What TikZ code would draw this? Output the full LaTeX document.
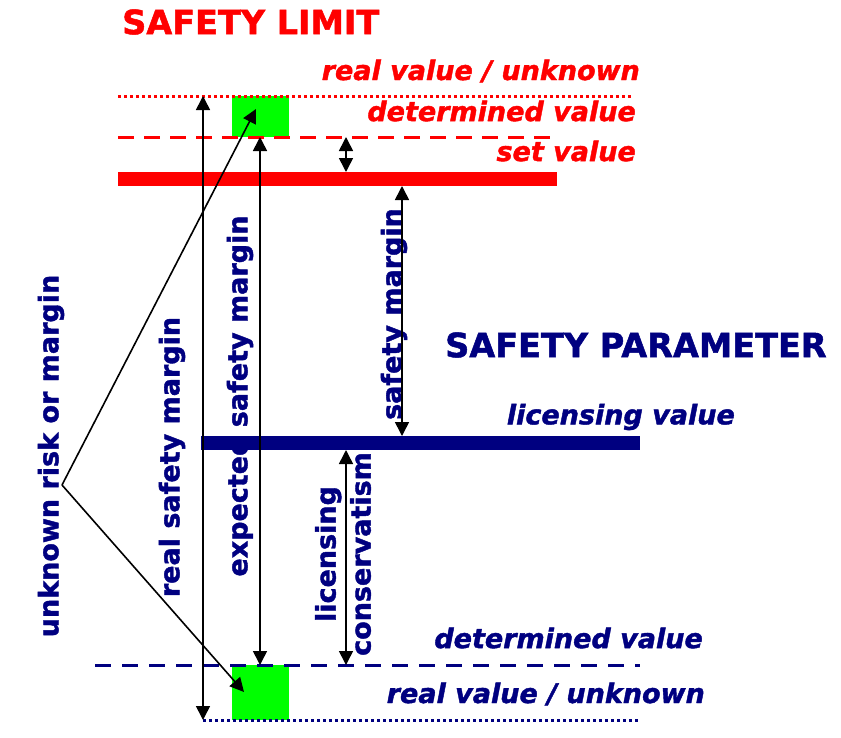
\documentclass[tikz,border=0pt]{standalone}
\usepackage{fontspec}
\setmainfont{DejaVu Sans}[BoldItalicFont={DejaVu Sans Bold Oblique}, ItalicFont={DejaVu Sans Oblique}, BoldFeatures={FakeBold=1.5}, BoldItalicFeatures={FakeBold=1.5}]
\usetikzlibrary{positioning,arrows.meta}
\definecolor{limitred}{rgb}{1, 0, 0}
\definecolor{paramnavy}{rgb}{0, 0, 0.5}
\definecolor{boxgreen}{rgb}{0, 1, 0}

\begin{document}
\begin{tikzpicture}[x=1pt, y=-1pt, inner sep=0pt,
		marg/.style={line width=1.6pt, {Triangle[length=14pt,width=14pt]}-{Triangle[length=14pt,width=14pt]}},
		point/.style={line width=1.6pt, -{Triangle[length=14pt,width=14pt]}},
		title/.style={font=\fontsize{33.5}{36}\selectfont\bfseries},
		levellabel/.style={font=\fontsize{27}{35}\selectfont\bfseries\itshape, anchor=east},
		marglabel/.style={font=\fontsize{27}{35}\selectfont\bfseries, text=paramnavy, rotate=90, align=center}]
			\useasboundingbox (0,0) rectangle (841,737);
			% level lines
			\coordinate (REALTOPL) at (118,96);
			\coordinate (REALTOPR) at (632,96);
			\coordinate (DETTOPL) at (118,137);
			\coordinate (DETTOPR) at (556,137);
			\coordinate (SETL) at (118,179);
			\coordinate (SETR) at (557,179);
			\coordinate (LICL) at (201,443);
			\coordinate (LICR) at (640,443);
			\coordinate (DETBOTL) at (95,665);
			\coordinate (DETBOTR) at (640,665);
			\coordinate (REALBOTL) at (203,720);
			\coordinate (REALBOTR) at (640,720);
			\node [fill=boxgreen, minimum width=57pt, minimum height=41pt, anchor=north west] (BOXTOP) at (232,96) {};
			\node [fill=boxgreen, minimum width=57pt, minimum height=55pt, anchor=north west] (BOXBOT) at (232,665) {};
			\draw [limitred, line width=3pt, dash pattern=on 3pt off 3pt] (REALTOPL) -- (REALTOPR);
			\draw [limitred, line width=3pt, dash pattern=on 16pt off 10pt] (DETTOPL) -- (DETTOPR);
			\draw [limitred, line width=14pt] (SETL) -- (SETR);
			\draw [paramnavy, line width=14pt] (LICL) -- (LICR);
			\draw [paramnavy, line width=3pt, dash pattern=on 16pt off 11pt] (DETBOTL) -- (DETBOTR);
			\draw [paramnavy, line width=3pt, dash pattern=on 3pt off 3pt] (REALBOTL) -- (REALBOTR);
			% labels
			\node [title, text=limitred, anchor=west] (LIMIT) at (122,22) {SAFETY LIMIT};
			\node [title, text=paramnavy, anchor=west] (PARAM) at (445,345) {SAFETY PARAMETER};
			\node [levellabel, text=limitred] (REALTOP) at (640,71) {real value / unknown};
			\node [levellabel, text=limitred] (DETTOP) at (636,111) {determined value};
			\node [levellabel, text=limitred] (SET) at (636,151) {set value};
			\node [levellabel, text=paramnavy] (LIC) at (735,417) {licensing value};
			\node [levellabel, text=paramnavy] (DETBOT) at (703,638) {determined value};
			\node [levellabel, text=paramnavy] (REALBOT) at (705,694) {real value / unknown};
			\node [marglabel] (UNKNOWN) at (51,456) {unknown risk or margin};
			\node [marglabel] (REALMARG) at (172,457) {real safety margin};
			\node [marglabel] (EXPMARG) at (240,396) {expected safety margin};
			\node [marglabel] (SAFEMARG) at (394,314) {safety margin};
			\node [marglabel] (CONSERV) at (343,554) {licensing\\conservatism};
			% margins
			\coordinate (APEX) at (62,485);
			\coordinate (TIPTOP) at (256,109);
			\coordinate (TIPBOT) at (244,692);
			\path [marg] (203,96) edge (203,720);
			\path [marg] (260,137) edge (260,665);
			\path [marg] (346,137) edge (346,172);
			\path [marg] (402,186) edge (402,436);
			\path [marg] (346,450) edge (346,665);
			\path [point] (APEX) edge (TIPTOP);
			\path [point] (APEX) edge (TIPBOT);
		\end{tikzpicture}
\end{document}
